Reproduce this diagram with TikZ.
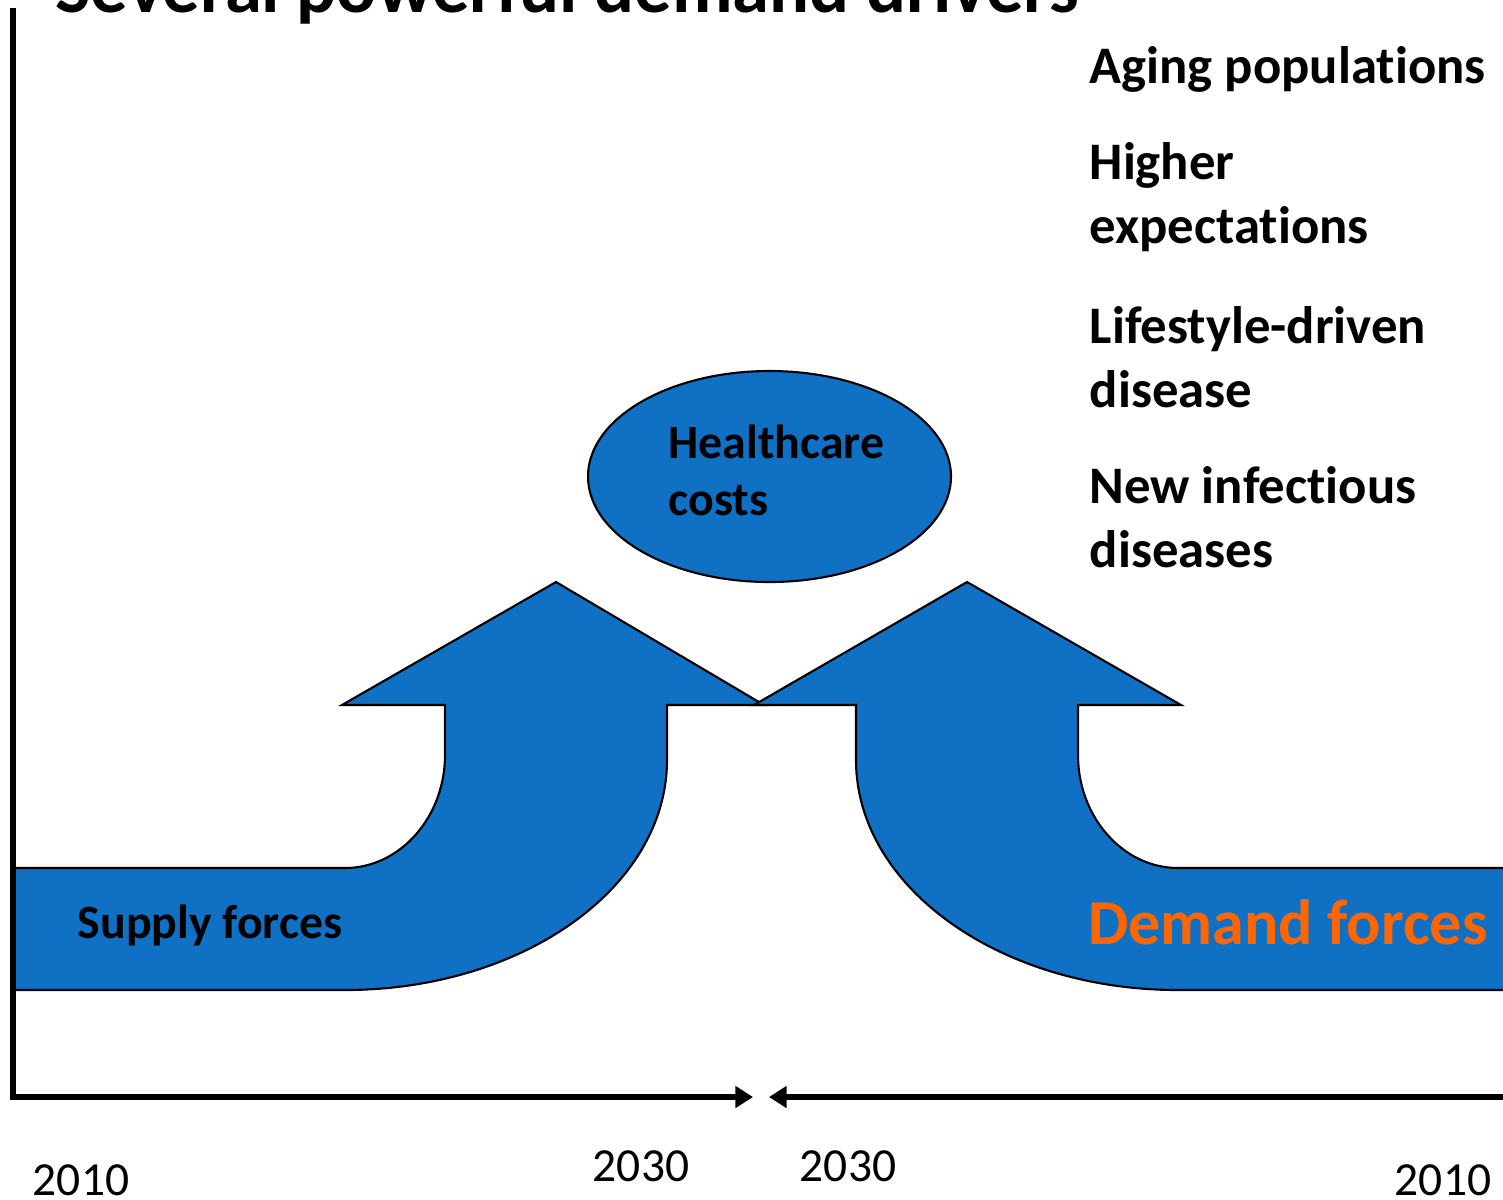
\documentclass[tikz,border=0pt]{standalone}
\usepackage{fontspec}
\setmainfont{Carlito}[Ligatures=NoCommon]
\usetikzlibrary{arrows.meta}

\begin{document}
\begin{tikzpicture}[x=0.01cm, y=-0.01cm,
    force/.style={draw, line width=0.6pt, fill={rgb,255:red,16;green,112;blue,196}},
    axis/.style={line width=1.5pt},
    tip/.style={-{Triangle[length=5pt, width=6pt]}},
    driver/.style={anchor=west, inner sep=0pt, align=left,
        font=\fontsize{15}{18.2}\selectfont\bfseries},
    year/.style={inner sep=0pt, font=\fontsize{13.5}{16}\selectfont}]
    \clip (0, 0) rectangle (1503, 1199);
    \fill [white] (0, 0) rectangle (1503, 1199);

    % title, cut off by the top edge
    \node (title) [anchor=base west, inner sep=0pt, font=\fontsize{21.2}{24}\selectfont\bfseries]
        at (55, 12) {Several powerful demand drivers};

    % supply arrow
    \draw [force] (13, 868) -- (345, 868)
        .. controls (400, 868) and (445, 817) .. (445, 755) -- (445, 705)
        -- (342, 705) -- (556, 582) -- (764, 705) -- (667, 705) -- (667, 760)
        .. controls (667, 887) and (523, 990) .. (345, 990) -- (13, 990) -- cycle;
    % demand arrow
    \draw [force] (1510, 868) -- (1178, 868)
        .. controls (1123, 868) and (1078, 817) .. (1078, 755) -- (1078, 705)
        -- (1181, 705) -- (967, 582) -- (754, 705) -- (856, 705) -- (856, 760)
        .. controls (856, 887) and (1000, 990) .. (1178, 990) -- (1510, 990) -- cycle;

    % healthcare costs
    \draw [force] (769.5, 476.5) ellipse [x radius=181.5, y radius=105.5];
    \node (costs) [anchor=west, inner sep=0pt, align=left, font=\fontsize{13.6}{16.2}\selectfont\bfseries]
        at (668, 470) {Healthcare\\costs};

    \node (supply) [inner sep=0pt, font=\fontsize{13.6}{16}\selectfont\bfseries] at (210, 925) {Supply forces};
    \node (demand) [inner sep=0pt, text={rgb,255:red,255;green,102;blue,0}, font=\fontsize{18.2}{20}\selectfont\bfseries]
        at (1288, 922) {Demand forces};

    % demand drivers
    \node (aging) [driver] at (1089, 69) {Aging populations};
    \node (higher) [driver] at (1089, 197) {Higher\\expectations};
    \node (lifestyle) [driver] at (1089, 357) {Lifestyle-driven\\disease};
    \node (infectious) [driver] at (1089, 517) {New infectious\\diseases};

    % time axes
    \coordinate (top) at (13, 8);
    \coordinate (origin) at (13, 1097);
    \coordinate (midleft) at (753, 1097);
    \coordinate (midright) at (769, 1097);
    \coordinate (farright) at (1503, 1097);
    \draw [axis, tip] (top) -- (origin) -- (midleft);
    \draw [axis, tip] (farright) -- (midright);

    \node (startleft) [year] at (81, 1180) {2010};
    \node (endleft) [year] at (641, 1166) {2030};
    \node (endright) [year] at (848, 1166) {2030};
    \node (startright) [year] at (1443, 1180) {2010};
\end{tikzpicture}
\end{document}
